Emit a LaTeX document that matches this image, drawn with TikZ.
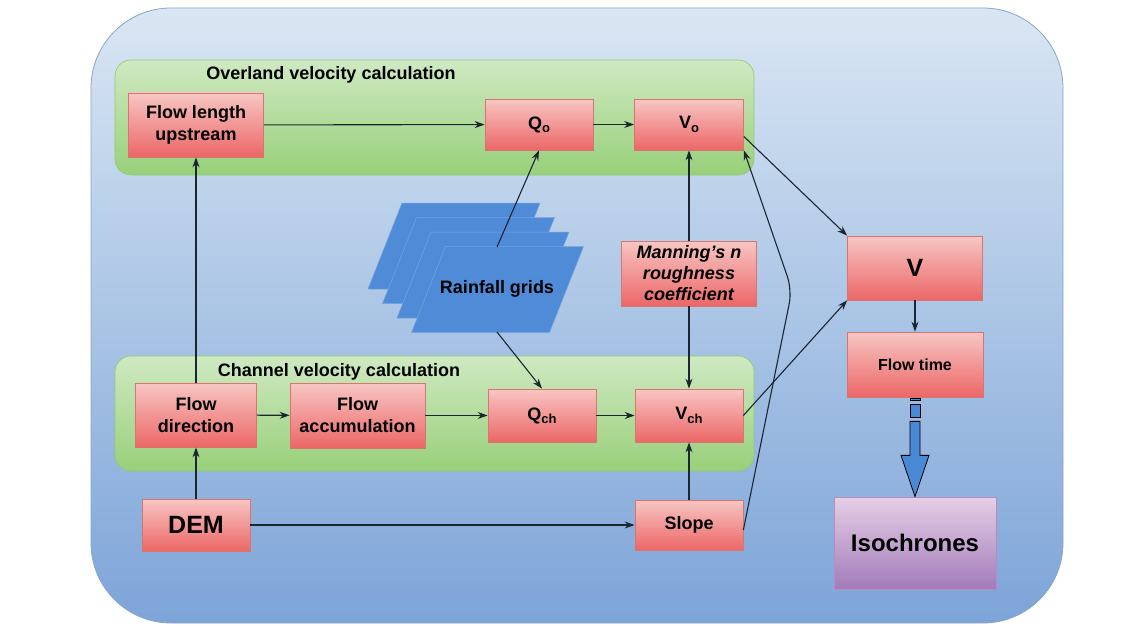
\documentclass[tikz,border=0pt]{standalone}
\usepackage{fontspec}
\setmainfont{Liberation Sans}
\usetikzlibrary{arrows.meta,calc}
\definecolor{outtop}{HTML}{D9E6F3}
\definecolor{outbot}{HTML}{7DA4D8}
\definecolor{outedge}{HTML}{8AA6C8}
\definecolor{grtop}{HTML}{CFE9C2}
\definecolor{grbot}{HTML}{98D07A}
\definecolor{gredge}{HTML}{93C873}
\definecolor{redtop}{HTML}{F7C6C3}
\definecolor{redbot}{HTML}{EC6767}
\definecolor{rededge}{HTML}{D9746F}
\definecolor{purtop}{HTML}{E6CFE6}
\definecolor{purbot}{HTML}{A27BBA}
\definecolor{puredge}{HTML}{B98CC0}
\definecolor{rainfill}{HTML}{4F8BD6}
\definecolor{rainedge}{HTML}{78A5DE}
\definecolor{lineclr}{HTML}{1B2633}
\definecolor{bigarrow}{HTML}{4A89D6}
\newcommand{\sub}[1]{\raisebox{-0.35ex}{\fontsize{13}{13}\selectfont #1}}
\begin{document}
\begin{tikzpicture}[x=1pt,y=-1pt,
  font=\fontsize{18}{22}\selectfont\bfseries,
  redbox/.style={draw=rededge, line width=0.7pt, top color=redtop, bottom color=redbot, align=center, inner sep=0pt, text=black},
  group/.style={draw=gredge, line width=0.6pt, top color=grtop, bottom color=grbot, rounded corners=16pt},
  arr/.style={draw=lineclr, line width=1.1pt, -{Stealth[length=10pt,width=7pt]}},
  rain/.style={fill=rainfill, draw=rainedge, line width=0.5pt}
]
\useasboundingbox (0,0) rectangle (1141,626);
\fill[white] (0,0) rectangle (1141,626);
% outer panel
\path[draw=outedge, line width=0.8pt, top color=outtop, bottom color=outbot, rounded corners=80pt] (91,8) rectangle (1063,623);
% groups
\path[group] (115,60) rectangle (754,175);
\path[group] (115,356) rectangle (754,471);
\node (ovt) at (331,75) {Overland velocity calculation};
\node (cht) at (339,372) {Channel velocity calculation};
% rainfall grids
\foreach \d in {0,14.5,29,43.5}{
  \path[rain] (402+\d,203+\d) -- (540+\d,203+\d) -- (506+\d,289+\d) -- (368+\d,289+\d) -- cycle;
}
\node (rain) at (497,289) {Rainfall grids};
\coordinate (raintop) at (497,247);
\coordinate (rainbot) at (497,332);
% boxes
\node[redbox, minimum width=135pt, minimum height=64pt] (flu) at (196,125) {Flow length\\upstream};
\node[redbox, minimum width=108pt, minimum height=51pt] (qo) at (539,124.5) {Q\sub{o}};
\node[redbox, minimum width=109pt, minimum height=51pt] (vo) at (689,124.5) {V\sub{o}};
\node[redbox, minimum width=135pt, minimum height=65pt, font=\fontsize{18}{21}\selectfont\bfseries\itshape] (man) at (689,273.5) {Manning's n\\roughness\\coefficient};
\node[redbox, minimum width=135pt, minimum height=64pt, font=\fontsize{25}{25}\selectfont\bfseries] (v) at (915,268) {V};
\node[redbox, minimum width=136pt, minimum height=65pt, font=\fontsize{16}{16}\selectfont\bfseries] (ft) at (915,364.5) {Flow time};
\node[draw=puredge, line width=0.7pt, top color=purtop, bottom color=purbot, minimum width=162pt, minimum height=92pt, inner sep=0pt, font=\fontsize{24}{24}\selectfont\bfseries] (iso) at (915,543) {Isochrones};
\node[redbox, minimum width=121pt, minimum height=64pt] (fd) at (196,415) {Flow\\direction};
\node[redbox, minimum width=135pt, minimum height=65pt] (fa) at (357.5,415.5) {Flow\\accumulation};
\node[redbox, minimum width=108pt, minimum height=53pt] (qch) at (542,415.5) {Q\sub{ch}};
\node[redbox, minimum width=108pt, minimum height=53pt] (vch) at (689,415.5) {V\sub{ch}};
\node[redbox, minimum width=108pt, minimum height=52pt, font=\fontsize{25}{25}\selectfont\bfseries] (dem) at (196,525) {DEM};
\node[redbox, minimum width=108pt, minimum height=50pt] (slope) at (689,525) {Slope};
% connectors
\draw[arr] (flu) -- (qo);
\draw[arr] (qo) -- (vo);
\draw[arr] (fd) -- (flu);
\draw[arr] (dem) -- (fd);
\draw[arr] (fd) -- (fa);
\draw[arr] (fa) -- (qch);
\draw[arr] (qch) -- (vch);
\draw[arr] (dem) -- (slope);
\draw[arr] (slope) -- (vch);
\draw[arr] (man) -- (vo);
\draw[arr] (man) -- (vch);
\draw[arr] (raintop) -- (qo.south);
\draw[arr] (rainbot) -- (qch.north);
\coordinate (bend) at (792,290);
\draw[arr, rounded corners=14pt] ([yshift=-5pt]slope.east) -- (bend) -- (vo.south east);
\draw[arr] ([yshift=-12pt]vo.east) -- (v.north west);
\draw[arr] (vch.east) -- (v.south west);
\draw[arr] (v) -- (ft);
% big blue arrow
\coordinate (ba) at (ft.south);
\path[fill=bigarrow, draw=black, line width=0.8pt] ($(ba)+(-5,1)$) rectangle ($(ba)+(5,3.5)$);
\path[fill=bigarrow, draw=black, line width=0.8pt] ($(ba)+(-5,7.5)$) rectangle ($(ba)+(5,20)$);
\path[fill=bigarrow, draw=black, line width=0.8pt] ($(ba)+(-5,24)$) -- ($(ba)+(5,24)$) -- ($(ba)+(5,58)$) -- ($(ba)+(14,58)$) -- (iso.north) -- ($(ba)+(-14,58)$) -- ($(ba)+(-5,58)$) -- cycle;
\end{tikzpicture}
\end{document}
